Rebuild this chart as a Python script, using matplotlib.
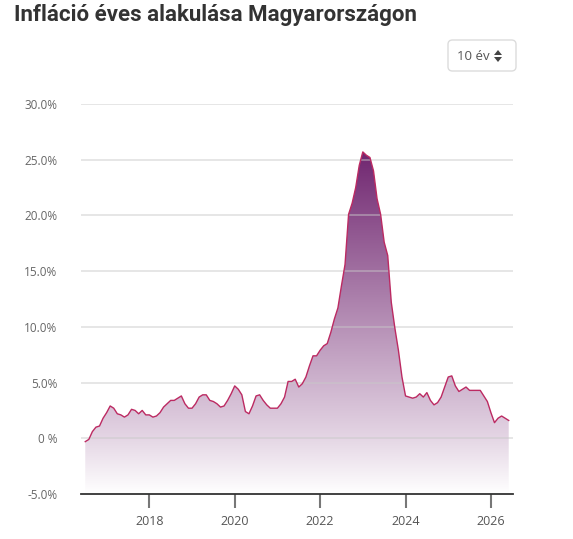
import numpy as np
import matplotlib
matplotlib.use("Agg")
import matplotlib.pyplot as plt
from matplotlib.patches import FancyBboxPatch, Polygon
from matplotlib.colors import LinearSegmentedColormap

# ---- data: monthly annual inflation (%), Jul 2016 - Jun 2026 ----
start_year = 2016
start_month = 7
inflation = [
    -0.3, -0.1, 0.6, 1.0, 1.1, 1.8,                                   # 2016 H2
    2.3, 2.9, 2.7, 2.2, 2.1, 1.9, 2.1, 2.6, 2.5, 2.2, 2.5, 2.1,       # 2017
    2.1, 1.9, 2.0, 2.3, 2.8, 3.1, 3.4, 3.4, 3.6, 3.8, 3.1, 2.7,       # 2018
    2.7, 3.1, 3.7, 3.9, 3.9, 3.4, 3.3, 3.1, 2.8, 2.9, 3.4, 4.0,       # 2019
    4.7, 4.4, 3.9, 2.4, 2.2, 2.9, 3.8, 3.9, 3.4, 3.0, 2.7, 2.7,       # 2020
    2.7, 3.1, 3.7, 5.1, 5.1, 5.3, 4.6, 4.9, 5.5, 6.5, 7.4, 7.4,       # 2021
    7.9, 8.3, 8.5, 9.5, 10.7, 11.7, 13.7, 15.6, 20.1, 21.1, 22.5, 24.5,  # 2022
    25.7, 25.4, 25.2, 24.0, 21.5, 20.1, 17.6, 16.4, 12.2, 9.9, 7.9, 5.5,  # 2023
    3.8, 3.7, 3.6, 3.7, 4.0, 3.7, 4.1, 3.4, 3.0, 3.2, 3.7, 4.6,       # 2024
    5.5, 5.6, 4.7, 4.2, 4.4, 4.6, 4.3, 4.3, 4.3, 4.3, 3.8, 3.3,       # 2025
    2.3, 1.4, 1.8, 2.0, 1.8, 1.6,                                     # 2026 H1
]
y_ticks = [-5, 0, 5, 10, 15, 20, 25, 30]
y_tick_labels = ["-5.0%", "0 %", "5.0%", "10.0%", "15.0%", "20.0%", "25.0%", "30.0%"]
x_ticks = [2018, 2020, 2022, 2024, 2026]
x_tick_labels = ["2018", "2020", "2022", "2024", "2026"]
title = "Infláció éves alakulása Magyarországon"
dropdown_label = "10 év"

vals = np.array(inflation, dtype=float)
t = start_year + (start_month - 1) / 12 + np.arange(len(vals)) / 12

W, H = 573, 539
fig = plt.figure(figsize=(W / 100, H / 100), dpi=100)
fig.patch.set_facecolor("white")

ax_left, ax_right = 81 / W, 512.7 / W
ax_bottom, ax_top = (H - 494) / H, (H - 104) / H
ax = fig.add_axes([ax_left, ax_bottom, ax_right - ax_left, ax_top - ax_bottom])
ax.set_xlim(2016.40, 2026.51)
ax.set_ylim(-5, 30)

# gradient fill clipped to area under the curve
ymin = -5
poly_xy = np.vstack([np.column_stack([t, vals]), [[t[-1], ymin], [t[0], ymin]]])
poly = Polygon(poly_xy, closed=True, facecolor="none", edgecolor="none")
ax.add_patch(poly)
cmap = LinearSegmentedColormap.from_list(
    "purp", [(0.0, (1, 1, 1, 1)), (0.17, (0.89, 0.83, 0.89, 1)),
             (1.0, (0.44, 0.15, 0.44, 1))])
ymax = vals.max()
grad = np.linspace(0, 1, 256).reshape(-1, 1)
im = ax.imshow(grad, extent=[t[0], t[-1], ymin, ymax], origin="lower",
               aspect="auto", cmap=cmap, zorder=1, interpolation="bicubic")
im.set_clip_path(poly)

# gridlines
for yv in y_ticks[1:]:
    ax.axhline(yv, color="#c8c8c8", lw=1.3, alpha=0.5, zorder=2)

ax.plot(t, vals, color="#bc2a62", lw=1.0, zorder=3)

for s in ["top", "right", "left"]:
    ax.spines[s].set_visible(False)
ax.spines["bottom"].set_color("#333333")
ax.spines["bottom"].set_linewidth(1.3)

ax.set_yticks(y_ticks)
ax.set_yticklabels(y_tick_labels)
ax.set_xticks(x_ticks)
ax.set_xticklabels(x_tick_labels)
ax.tick_params(axis="y", length=0, pad=17, labelsize=8.5, labelcolor="#666666")
ax.tick_params(axis="x", length=10, width=1.5, color="#777777", pad=5,
               labelsize=9, labelcolor="#555555")
for lab in ax.get_yticklabels() + ax.get_xticklabels():
    lab.set_fontfamily("Open Sans")

# title
fig.text(14 / W, 1 - 21.5 / H, title, fontsize=16, fontweight="bold",
         color="#333333", family="Roboto", va="baseline", ha="left")

# dropdown
bx0, by0, bw, bh = 448, 40, 68, 31
box = FancyBboxPatch((bx0 / W, 1 - (by0 + bh) / H), bw / W, bh / H,
                     boxstyle="round,pad=0,rounding_size=0.008",
                     transform=fig.transFigure, facecolor="white",
                     edgecolor="#dcdcdc", lw=1)
fig.patches.append(box)
fig.text(457 / W, 1 - 56 / H, dropdown_label, fontsize=9.5, color="#555555",
         family="Open Sans", va="center", ha="left")
cx, cy = 498, 56
up = Polygon([[(cx - 4) / W, 1 - (cy - 1) / H], [(cx + 4) / W, 1 - (cy - 1) / H],
              [cx / W, 1 - (cy - 6) / H]], closed=True, transform=fig.transFigure,
             facecolor="#444444", edgecolor="none")
dn = Polygon([[(cx - 4) / W, 1 - (cy + 1) / H], [(cx + 4) / W, 1 - (cy + 1) / H],
              [cx / W, 1 - (cy + 6) / H]], closed=True, transform=fig.transFigure,
             facecolor="#444444", edgecolor="none")
fig.patches.append(up)
fig.patches.append(dn)

fig.savefig("out.png", dpi=100, facecolor="white")
